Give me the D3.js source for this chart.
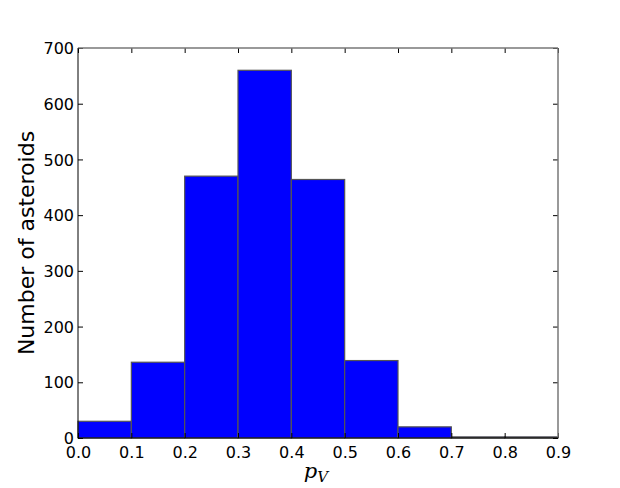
<!DOCTYPE html>
<html><head><meta charset="utf-8">
<script src="https://cdn.jsdelivr.net/npm/d3@7"></script>
<style>body{margin:0;background:#fff}svg{display:block}</style>
</head><body>
<script>
const binEdges = [0.0,0.1,0.2,0.3,0.4,0.5,0.6,0.7,0.8,0.9];
const counts = [30,136,470,660,464,139,20,2,2];
const xTicks = [0.0,0.1,0.2,0.3,0.4,0.5,0.6,0.7,0.8,0.9];
const yTicks = [0,100,200,300,400,500,600,700];

const W=620,H=488, L=78,R=558,T=48,B=438;
const svg=d3.select("body").append("svg").attr("width",W).attr("height",H);
const x=d3.scaleLinear().domain([0,0.9]).range([L,R]);
const y=d3.scaleLinear().domain([0,700]).range([B,T]);

const bars = counts.map((c,i)=>({x0:binEdges[i],x1:binEdges[i+1],c}));
svg.append("g").selectAll("rect").data(bars).join("rect")
  .attr("x",d=>x(d.x0)).attr("y",d=>y(d.c))
  .attr("width",d=>x(d.x1)-x(d.x0)).attr("height",d=>B-y(d.c))
  .attr("fill","#0000ff").attr("stroke","#555").attr("stroke-width",1.2);

const font="DejaVu Sans";
const xb=svg.append("g").attr("transform",`translate(0,${B})`)
  .call(d3.axisBottom(x).tickValues(xTicks).tickFormat(d3.format(".1f")).tickSizeInner(-5).tickSizeOuter(0).tickPadding(6));
const xt=svg.append("g").attr("transform",`translate(0,${T})`)
  .call(d3.axisTop(x).tickValues(xTicks).tickFormat("").tickSizeInner(-5).tickSizeOuter(0));
const yl=svg.append("g").attr("transform",`translate(${L},0)`)
  .call(d3.axisLeft(y).tickValues(yTicks).tickFormat(d3.format("d")).tickSizeInner(-5).tickSizeOuter(0).tickPadding(4));
const yr=svg.append("g").attr("transform",`translate(${R},0)`)
  .call(d3.axisRight(y).tickValues(yTicks).tickFormat("").tickSizeInner(-5).tickSizeOuter(0));
svg.selectAll(".domain").remove();
[xb,xt,yl,yr].forEach(g=>{g.selectAll("line").attr("stroke","#000");
  g.selectAll("text").attr("font-family",font).attr("font-size",16).attr("fill","#000");});
xb.selectAll("text").attr("dy","0.9em");
yl.selectAll("text").attr("dy","0.35em");

svg.append("line").attr("x1",L).attr("x2",R).attr("y1",T).attr("y2",T).attr("stroke","#777").attr("stroke-width",1.5);
svg.append("line").attr("x1",R).attr("x2",R).attr("y1",T).attr("y2",B).attr("stroke","#777").attr("stroke-width",1.5);
svg.append("line").attr("x1",L).attr("x2",L).attr("y1",T).attr("y2",B).attr("stroke","#000").attr("stroke-width",1);
svg.append("line").attr("x1",L).attr("x2",R).attr("y1",B).attr("y2",B).attr("stroke","#000").attr("stroke-width",1);

svg.append("text").attr("transform",`translate(34,${(T+B)/2}) rotate(-90)`)
  .attr("text-anchor","middle").attr("font-family",font).attr("font-size",22).text("Number of asteroids");
const xl=svg.append("text").attr("x",(L+R)/2-2).attr("y",478).attr("text-anchor","middle")
  .attr("font-family","DejaVu Serif").attr("font-style","italic").attr("font-size",21);
xl.append("tspan").text("p");
xl.append("tspan").attr("font-size",15).attr("dy",4).text("V");
</script>
</body></html>
